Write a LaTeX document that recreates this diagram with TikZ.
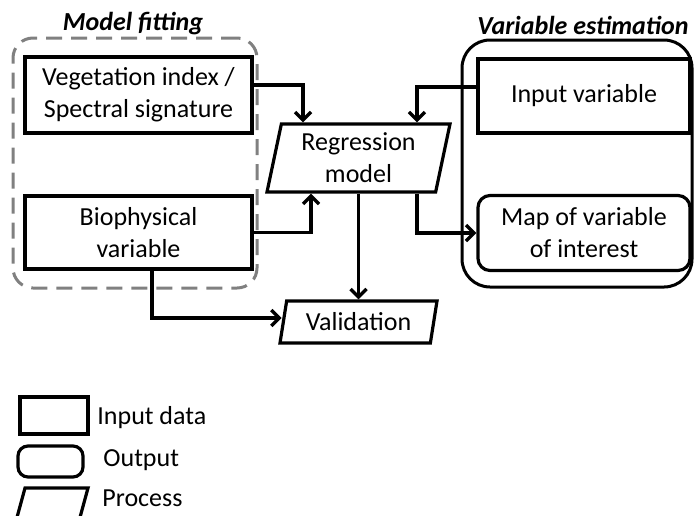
\documentclass[tikz,border=0pt]{standalone}
\usepackage{fontspec}
\setmainfont{Carlito}
\usetikzlibrary{arrows.meta}
\usetikzlibrary{shapes.geometric}

\tikzset{
  every node/.style={font=\fontsize{13}{16}\selectfont},
  indata/.style={draw, line width=1.6pt, rectangle, align=center, inner sep=0pt},
  outdata/.style={indata, rounded corners=6pt},
  proc/.style={draw, line width=1.6pt, trapezium, trapezium stretches body, align=center, inner sep=0pt},
  group/.style={draw, line width=1.5pt},
  grouptitle/.style={font=\fontsize{13}{16}\selectfont\bfseries\itshape},
  flow/.style={line width=1.7pt, -{Straight Barb[length=4pt,width=8pt]}},
}

\begin{document}
\begin{tikzpicture}[x=0.5pt, y=-0.5pt]
  \path[use as bounding box, clip] (0,0) rectangle (694,515);
  % group frames
  \node[group, gray, rounded corners=10pt, dash pattern=on 8pt off 4.5pt,
        minimum width=122pt, minimum height=125pt] (fitting) at (135,163) {};
  \node[grouptitle] (fittitle) at (133,24) {Model fitting};
  \node[group, rounded corners=14pt, minimum width=115pt, minimum height=123.5pt] (estim) at (577,163.5) {};
  \node[grouptitle] (estimtitle) at (583,25) {Variable estimation};

  % boxes
  \node[indata, minimum width=113.5pt, minimum height=38pt] (veg) at (138.5,95) {Vegetation index /\\Spectral signature};
  \node[indata, minimum width=113.5pt, minimum height=36.5pt] (bio) at (138.5,232.5) {Biophysical\\variable};
  \node[proc, trapezium left angle=74, trapezium right angle=106,
        minimum width=91.5pt, minimum height=34pt] (reg) at (358.5,158) {Regression\\model};
  \node[proc, trapezium left angle=70, trapezium right angle=110,
        minimum width=78.5pt, minimum height=21pt] (val) at (358.5,322) {Validation};
  \node[indata, minimum width=106pt, minimum height=37pt] (inp) at (584,96) {Input variable};
  \node[outdata, minimum width=106pt, minimum height=37.5pt] (map) at (584,233) {Map of variable\\of interest};

  % connectors
  \draw[flow] ([yshift=5pt]veg.east) -| ([xshift=11.5pt]reg.top left corner);
  \draw[flow] (bio.east) -| ([xshift=23pt]reg.bottom left corner);
  \draw[flow] ([yshift=4.5pt]inp.west) -| ([xshift=-17.5pt]reg.top right corner);
  \draw[flow] ([xshift=-10pt]reg.bottom right corner) |- (map.west);
  \draw[flow] (reg.center |- reg.bottom left corner) -- (reg.center |- val.top left corner);
  \draw[flow] ([xshift=6.75pt]bio.south) |- ([yshift=2pt]val.west);

  % legend
  \node[indata, minimum width=34pt, minimum height=18.5pt] (keyin) at (54,415.5) {};
  \node[anchor=west, inner sep=0pt] (keyintext) at (97,418) {Input data};
  \node[outdata, rounded corners=5pt, minimum width=32.5pt, minimum height=15.5pt] (keyout) at (50.5,461.5) {};
  \node[anchor=west, inner sep=0pt] (keyouttext) at (103,460) {Output};
  \draw[line width=1.6pt, line join=miter] (16,521) -- (25,488) -- (88,488) -- (79,521);
  \node[anchor=west, inner sep=0pt] (keyproctext) at (102,498) {Process};
\end{tikzpicture}
\end{document}
